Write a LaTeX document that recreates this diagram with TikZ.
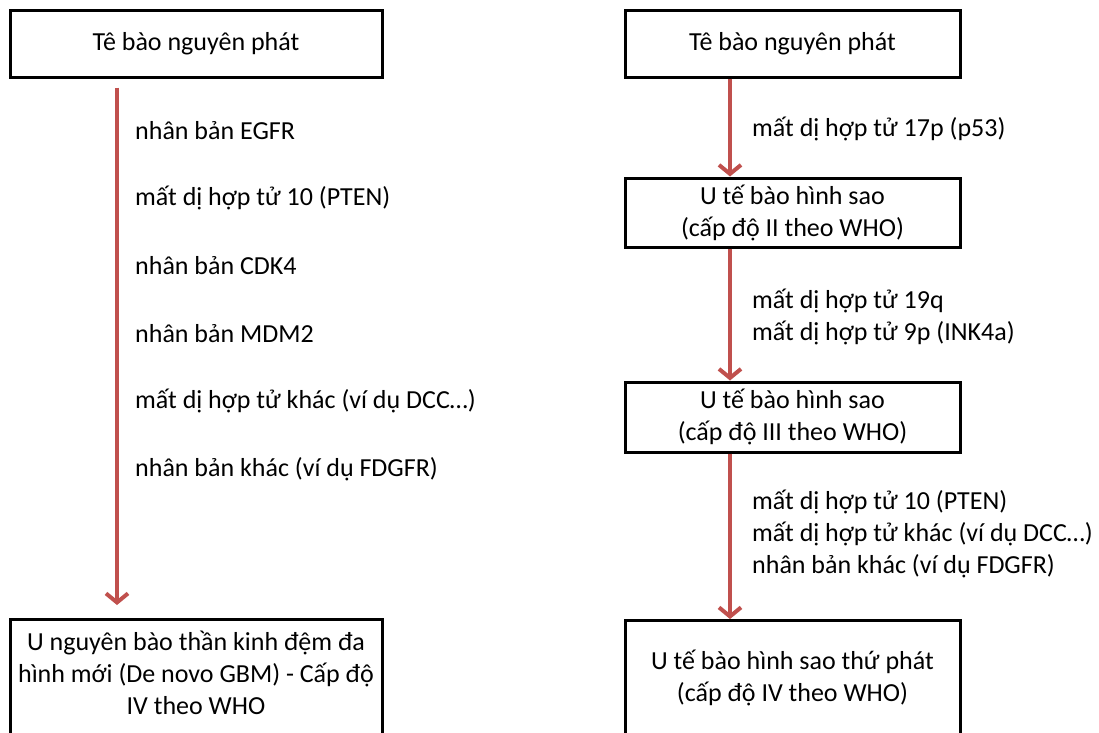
\documentclass[tikz,border=0pt]{standalone}
\usepackage{fontspec}
\setmainfont{Carlito}
\usetikzlibrary{arrows.meta,calc}
\definecolor{arrowred}{RGB}{192,80,77}
\begin{document}
\begin{tikzpicture}[x=1pt,y=-1pt,
  box/.style={draw=black,line width=3pt,rectangle,inner sep=0pt,align=center,font=\fontsize{26}{32}\selectfont},
  txt/.style={inner sep=0pt,align=center,font=\fontsize{26}{32}\selectfont},
  lbl/.style={inner sep=0pt,anchor=west,align=left,font=\fontsize{26}{32}\selectfont},
  flow/.style={draw=arrowred,line width=4pt,-{Straight Barb[length=9pt,width=22pt]}}]
\useasboundingbox (0,0) rectangle (1099,732);
\clip (0,0) rectangle (1099,732);
% left column
\node[box,minimum width=372pt,minimum height=67pt] (ltop) at (196,43.5) {Tê bào nguyên phát};
\node[box,minimum width=372pt,minimum height=200pt,anchor=north] (lbot) at (196,618) {};
\node[txt] (lbott) at (196,673) {U nguyên bào thần kinh đệm đa\\hình mới (De novo GBM) - Cấp độ\\IV theo WHO};
\coordinate (lax) at (117,0);
\draw[flow,shorten <=9pt,shorten >=13pt] (ltop.south -| lax) -- (lbot.north -| lax);
\node[lbl] (l1) at (135,131) {nhân bản EGFR};
\node[lbl] (l2) at (135,198) {mất dị hợp tử 10 (PTEN)};
\node[lbl] (l3) at (135,266) {nhân bản CDK4};
\node[lbl] (l4) at (135,334) {nhân bản MDM2};
\node[lbl] (l5) at (135,401) {mất dị hợp tử khác (ví dụ DCC…)};
\node[lbl] (l6) at (135,469) {nhân bản khác (ví dụ FDGFR)};
% right column
\node[box,minimum width=335pt,minimum height=67pt] (rtop) at (792.5,43.5) {Tê bào nguyên phát};
\node[box,minimum width=335pt,minimum height=69pt] (r2) at (792.5,212.5) {U tế bào hình sao\\(cấp độ II theo WHO)};
\node[box,minimum width=335pt,minimum height=70pt] (r3) at (792.5,417) {U tế bào hình sao\\(cấp độ III theo WHO)};
\node[box,minimum width=335pt,minimum height=200pt,anchor=north] (rbot) at (792.5,619) {};
\node[txt] (rbott) at (792.5,678) {U tế bào hình sao thứ phát\\(cấp độ IV theo WHO)};
\coordinate (rax) at (730,0);
\draw[flow] (rtop.south -| rax) -- (r2.north -| rax);
\draw[flow] (r2.south -| rax) -- (r3.north -| rax);
\draw[flow] (r3.south -| rax) -- (rbot.north -| rax);
\node[lbl] (r1a) at (752,129) {mất dị hợp tử 17p (p53)};
\node[lbl] (r2a) at (752,317) {mất dị hợp tử 19q\\mất dị hợp tử 9p (INK4a)};
\node[lbl] (r3a) at (752,534) {mất dị hợp tử 10 (PTEN)\\mất dị hợp tử khác (ví dụ DCC…)\\nhân bản khác (ví dụ FDGFR)};
\end{tikzpicture}
\end{document}
